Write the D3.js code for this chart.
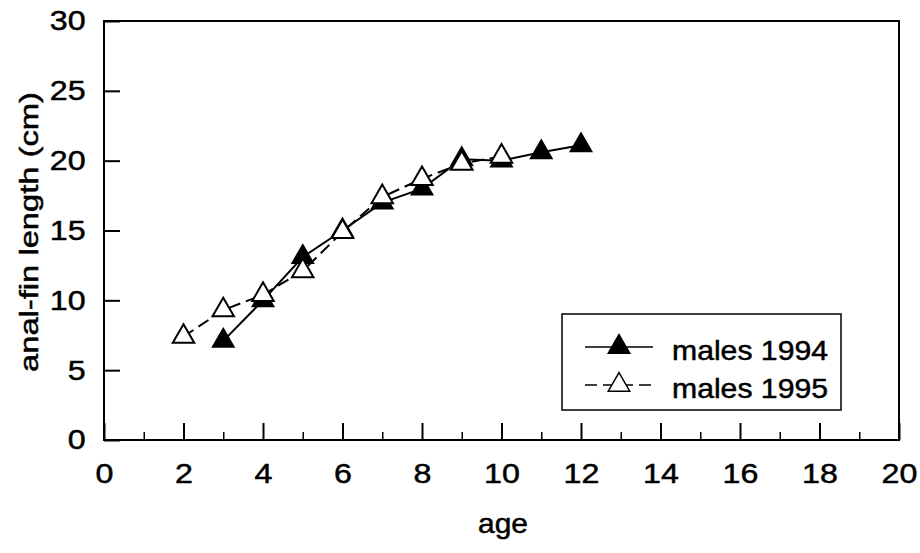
<!DOCTYPE html>
<html><head><meta charset="utf-8">
<script src="https://cdn.jsdelivr.net/npm/d3@7"></script>
<style>body{margin:0;background:#fff}svg{display:block}text{font-family:"Liberation Sans",Arial,sans-serif;fill:#000;stroke:#000;stroke-width:0.5px}</style>
</head><body><svg id="c" width="920" height="553"></svg>
<script>
const ages1994 = [3,4,5,6,7,8,9,10,11,12];
const males1994 = [7.1,10.0,13.1,15.0,17.0,18.0,20.1,20.0,20.6,21.1];
const ages1995 = [2,3,4,5,6,7,8,9,10];
const males1995 = [7.4,9.3,10.4,12.1,14.9,17.4,18.7,19.8,20.3];
const xTicks = [0,2,4,6,8,10,12,14,16,18,20];
const yTicks = [0,5,10,15,20,25,30];
const seriesNames = ["males 1994","males 1995"];

const svg = d3.select("#c");
const L=104,R=899,T=21,B=440;
const x = d3.scaleLinear().domain([0,20]).range([L,R]);
const y = d3.scaleLinear().domain([0,30]).range([B,T]);

svg.append("rect").attr("x",L).attr("y",T).attr("width",R-L).attr("height",B-T)
  .attr("fill","none").attr("stroke","#000").attr("stroke-width",2);

const xa = svg.append("g").attr("transform",`translate(0,${B})`)
  .call(d3.axisBottom(x).tickValues(xTicks).tickSizeInner(-17).tickSizeOuter(0).tickPadding(23).tickFormat(d3.format("d")));
xa.select(".domain").remove();
xa.selectAll("line").attr("stroke-width",2);
xa.selectAll("text").attr("font-size",28).attr("font-family","Liberation Sans, Arial, sans-serif").attr("transform","scale(1.15,1)");
const xm = svg.append("g").attr("transform",`translate(0,${B})`)
  .call(d3.axisBottom(x).tickValues(d3.range(1,20,2)).tickSizeInner(-8).tickSizeOuter(0).tickFormat(""));
xm.select(".domain").remove();
xm.selectAll("line").attr("stroke-width",1.5);

const ya = svg.append("g").attr("transform",`translate(${L},0)`)
  .call(d3.axisLeft(y).tickValues(yTicks).tickSizeInner(-16).tickSizeOuter(0).tickPadding(16).tickFormat(d3.format("d")));
ya.select(".domain").remove();
ya.selectAll("line").attr("stroke-width",2);
ya.selectAll("text").attr("font-size",28).attr("font-family","Liberation Sans, Arial, sans-serif").attr("transform","scale(1.15,1)");

svg.append("text").attr("x",503).attr("y",533).attr("text-anchor","middle").attr("font-size",28)
  .attr("textLength",50).attr("lengthAdjust","spacingAndGlyphs").text("age");
svg.append("text").attr("transform",`translate(38,232) rotate(-90)`).attr("text-anchor","middle").attr("font-size",26)
  .attr("textLength",280).attr("lengthAdjust","spacingAndGlyphs").text("anal-fin length (cm)");

const tri = d3.symbol().type(d3.symbolTriangle).size(200);
const d94 = ages1994.map((a,i)=>[a,males1994[i]]);
const d95 = ages1995.map((a,i)=>[a,males1995[i]]);
const line = d3.line().x(d=>x(d[0])).y(d=>y(d[1]));

svg.append("path").datum(d95).attr("d",line).attr("fill","none").attr("stroke","#000").attr("stroke-width",2).attr("stroke-dasharray","12,6");
svg.append("path").datum(d94).attr("d",line).attr("fill","none").attr("stroke","#000").attr("stroke-width",2);

svg.selectAll(".m94").data(d94).join("path").attr("class","m94").attr("d",tri)
  .attr("transform",d=>`translate(${x(d[0])},${y(d[1])})`).attr("fill","#000").attr("stroke","#000").attr("stroke-width",1.5);
svg.selectAll(".m95").data(d95).join("path").attr("class","m95").attr("d",tri)
  .attr("transform",d=>`translate(${x(d[0])},${y(d[1])})`).attr("fill","#fff").attr("stroke","#000").attr("stroke-width",2);

const lg = svg.append("g");
lg.append("rect").attr("x",562).attr("y",314).attr("width",279).attr("height",96).attr("fill","#fff").attr("stroke","#000").attr("stroke-width",1.5);
const rows=[{y:347,fill:"#000",dash:null},{y:385,fill:"#fff",dash:"12,6"}];
rows.forEach((r,i)=>{
  lg.append("line").attr("x1",585).attr("x2",653).attr("y1",r.y).attr("y2",r.y).attr("stroke","#000").attr("stroke-width",1.5).attr("stroke-dasharray",r.dash);
  lg.append("path").attr("d",tri).attr("transform",`translate(619,${r.y})`).attr("fill",r.fill).attr("stroke","#000").attr("stroke-width",1.5);
  lg.append("text").attr("x",672).attr("y",r.y+13).attr("font-size",28).attr("textLength",156).attr("lengthAdjust","spacingAndGlyphs").text(seriesNames[i]);
});
</script></body></html>
